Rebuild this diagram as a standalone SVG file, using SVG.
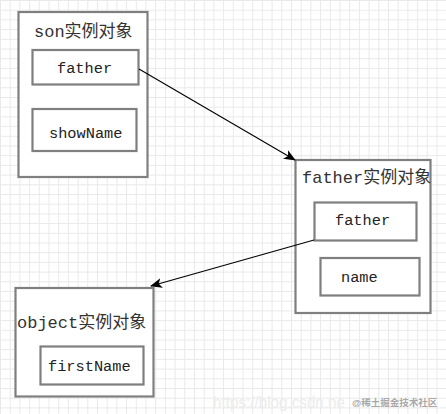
<svg xmlns="http://www.w3.org/2000/svg" width="446" height="414" viewBox="0 0 446 414">
<style>
.box{fill:#ffffff;stroke:#7f7f7f;stroke-width:2.2}
.inner{fill:#ffffff;stroke:#7f7f7f;stroke-width:2.2}
.title{font-family:"Liberation Mono","Noto Sans CJK SC",monospace;font-size:17px;fill:#333333}
.lbl{font-family:"Liberation Mono","Noto Sans CJK SC",monospace;font-size:15.3px;fill:#222222}
.edge{fill:none;stroke:#000000;stroke-width:1.1}
</style>
<defs>
<pattern id="grid" width="9.7" height="9.7" patternUnits="userSpaceOnUse">
<path d="M0.5,0 V9.7 M0,0.5 H9.7" fill="none" stroke="#e9e9e9" stroke-width="1"/>
</pattern>
<marker id="arr" viewBox="0 0 12 10" refX="11" refY="5" markerWidth="12" markerHeight="10" markerUnits="userSpaceOnUse" orient="auto">
<path d="M0,0 L12,5 L0,10 L3,5 Z" fill="#000000"/>
</marker>
</defs>
<rect width="446" height="414" fill="#ffffff"/>
<rect width="446" height="414" fill="url(#grid)"/>
<g id="watermark">
<text x="213" y="408" font-family="Liberation Sans,sans-serif" font-size="17" fill="#ececec" textLength="132" lengthAdjust="spacingAndGlyphs">https://blog.csdn.ne</text>
<text x="352" y="406" font-family="Liberation Sans,'Noto Sans CJK SC',sans-serif" font-size="9.5" font-weight="bold" fill="#a8a8a8">@稀土掘金技术社区</text>
</g>
<g id="son">
<rect class="box" x="18.5" y="12" width="129" height="165"/>
<text class="title" x="34" y="37">son实例对象</text>
</g>
<g id="son-father">
<rect class="inner" x="32.5" y="50" width="106" height="34.5"/>
<text class="lbl" x="57" y="73">father</text>
</g>
<g id="son-showName">
<rect class="inner" x="32.5" y="109" width="104" height="42"/>
<text class="lbl" x="49" y="138">showName</text>
</g>
<g id="father">
<rect class="box" x="295.5" y="160" width="135" height="153"/>
<text class="title" x="302" y="183">father实例对象</text>
</g>
<g id="father-father">
<rect class="inner" x="314.5" y="202.5" width="102" height="38"/>
<text class="lbl" x="335" y="225">father</text>
</g>
<g id="father-name">
<rect class="inner" x="320.5" y="258" width="99" height="37.5"/>
<text class="lbl" x="341" y="282">name</text>
</g>
<g id="object">
<rect class="box" x="15.5" y="288" width="138" height="108.5"/>
<text class="title" x="17" y="328">object实例对象</text>
</g>
<g id="object-firstName">
<rect class="inner" x="40.5" y="346.5" width="103" height="38"/>
<text class="lbl" x="48" y="371">firstName</text>
</g>
<g id="connectors">
<path class="edge" d="M139,69 L295,160" marker-end="url(#arr)"/>
<path class="edge" d="M314,240 L151,286" marker-end="url(#arr)"/>
</g>
</svg>
